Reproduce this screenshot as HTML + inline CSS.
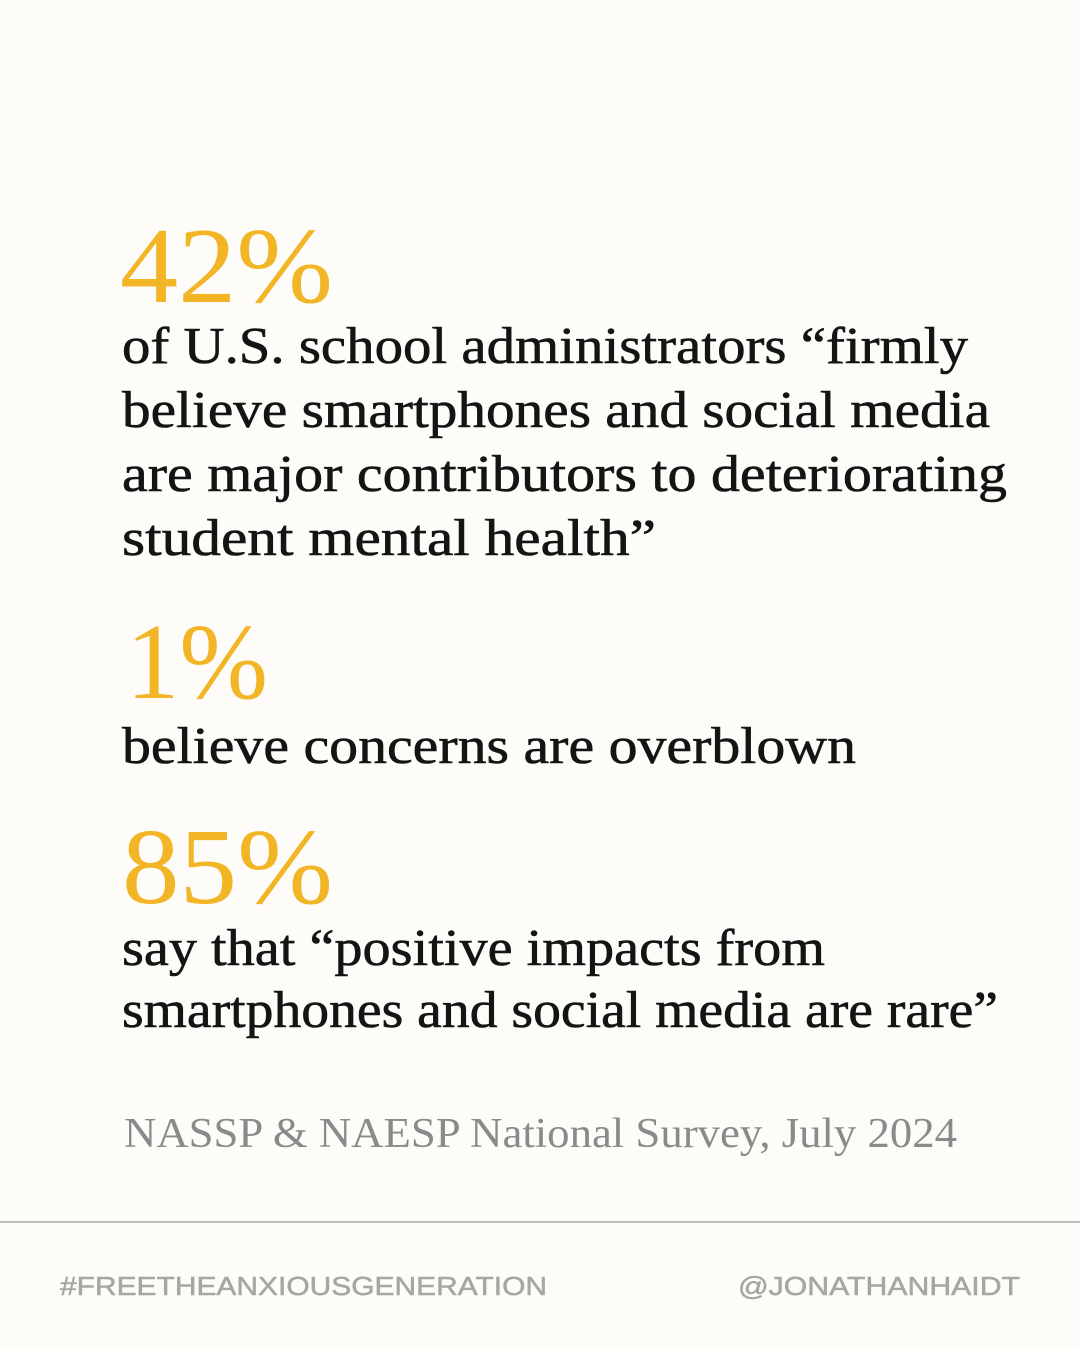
<!DOCTYPE html>
<html><head><meta charset="utf-8"><style>
html,body{margin:0;padding:0;background:#fdfcf8;}
svg{display:block}
</style></head><body>
<svg width="1080" height="1350" viewBox="0 0 1080 1350" xmlns="http://www.w3.org/2000/svg">
<rect width="1080" height="1350" fill="#fdfcf8"/>
<g font-family="Liberation Serif, serif" fill="#141414" font-size="52" stroke="#141414" stroke-width="0.6">
<text x="120" y="302" font-size="108" fill="#f2b526" stroke="none" textLength="213" lengthAdjust="spacingAndGlyphs">42%</text>
<text x="122" y="363" textLength="846" lengthAdjust="spacingAndGlyphs">of U.S. school administrators “firmly</text>
<text x="122" y="427" textLength="868" lengthAdjust="spacingAndGlyphs">believe smartphones and social media</text>
<text x="122" y="491" textLength="885" lengthAdjust="spacingAndGlyphs">are major contributors to deteriorating</text>
<text x="122" y="555" textLength="534" lengthAdjust="spacingAndGlyphs">student mental health”</text>
<text x="126" y="698" font-size="108" fill="#f2b526" stroke="none" textLength="142" lengthAdjust="spacingAndGlyphs">1%</text>
<text x="122" y="763" textLength="734" lengthAdjust="spacingAndGlyphs">believe concerns are overblown</text>
<text x="122" y="903" font-size="108" fill="#f2b526" stroke="none" textLength="211" lengthAdjust="spacingAndGlyphs">85%</text>
<text x="122" y="965" textLength="703" lengthAdjust="spacingAndGlyphs">say that “positive impacts from</text>
<text x="122" y="1027" textLength="876" lengthAdjust="spacingAndGlyphs">smartphones and social media are rare”</text>
<text x="124" y="1147" font-size="42" fill="#8a8a8a" stroke="none" textLength="833" lengthAdjust="spacingAndGlyphs">NASSP &amp; NAESP National Survey, July 2024</text>
</g>
<rect x="0" y="1221" width="1080" height="2" fill="#bdbdbb"/>
<g font-family="Liberation Sans, sans-serif" fill="#a6a6a4" font-size="26" stroke="#a6a6a4" stroke-width="0.5">
<text x="60" y="1295" textLength="487" lengthAdjust="spacingAndGlyphs">#FREETHEANXIOUSGENERATION</text>
<text x="738" y="1295" textLength="282" lengthAdjust="spacingAndGlyphs">@JONATHANHAIDT</text>
</g>
</svg>
</body></html>
